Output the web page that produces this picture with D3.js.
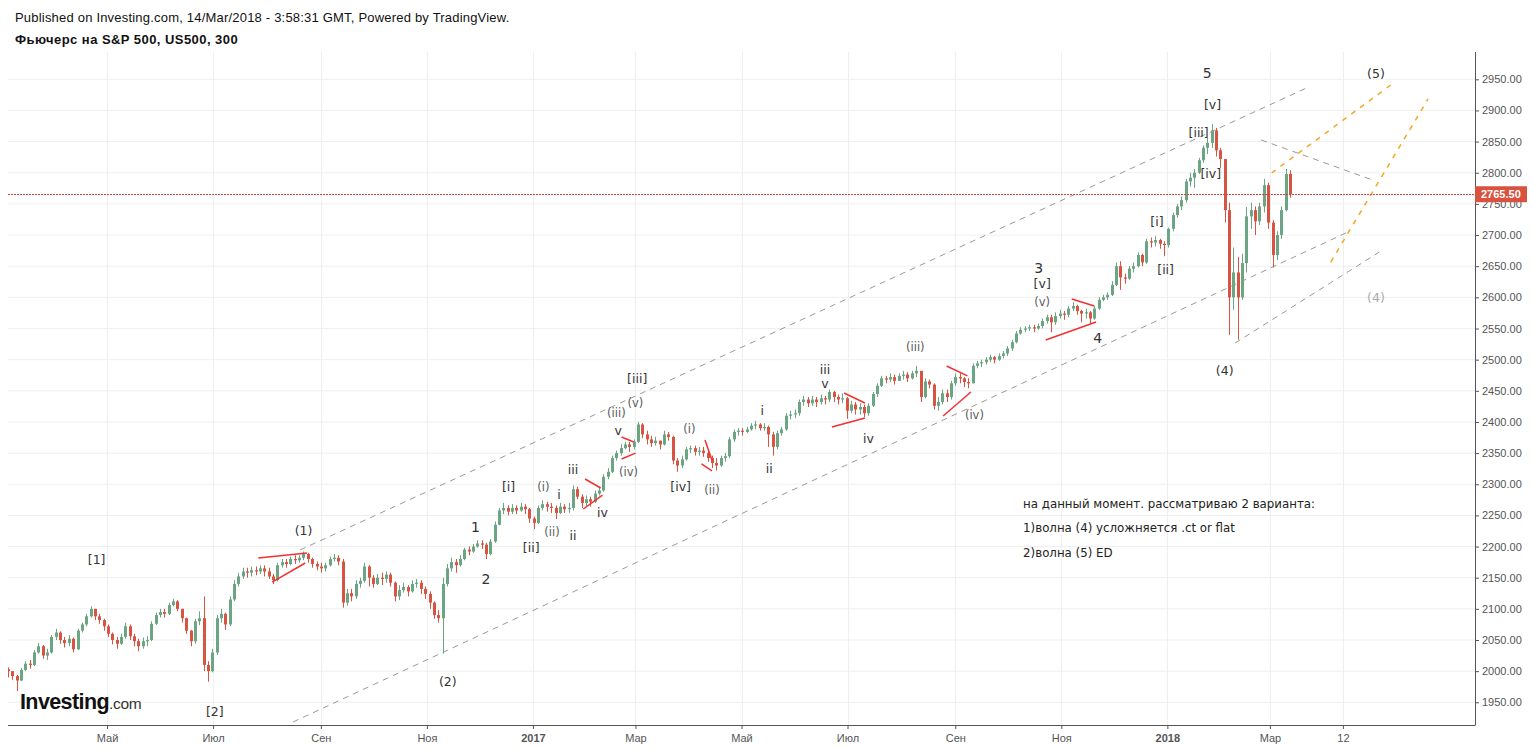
<!DOCTYPE html>
<html><head><meta charset="utf-8">
<script src="https://cdn.jsdelivr.net/npm/d3@7"></script>
<style>
html,body{margin:0;padding:0;background:#fff;}
svg{display:block;}
</style></head><body>
<svg id="chart" width="1533" height="749"></svg>
<script>
// ---------------- DATA ----------------
const firstCandleDate = "2016-03-05";
const candleStepDays = 2.5;
const firstOpen = 2003;
const closes = [
2000,1992,1985,2002,2012,2010,2030,2040,2025,2030,
2055,2062,2050,2045,2052,2035,2065,2075,2088,2100,
2088,2082,2072,2060,2050,2044,2055,2072,2056,2048,
2040,2048,2050,2076,2090,2095,2092,2106,2112,2100,
2085,2065,2048,2080,2085,2010,2000,2030,2085,2092,
2075,2115,2140,2152,2160,2158,2162,2160,2165,2160,
2152,2146,2170,2175,2172,2180,2178,2182,2188,2180,
2172,2168,2165,2170,2180,2182,2176,2110,2125,2120,
2140,2145,2168,2150,2140,2150,2148,2155,2142,2120,
2130,2135,2128,2140,2142,2132,2124,2110,2090,2085,
2140,2165,2175,2170,2180,2195,2192,2200,2205,2203,
2188,2208,2235,2258,2262,2256,2262,2258,2264,2260,
2245,2238,2262,2268,2264,2262,2254,2264,2260,2262,
2292,2280,2270,2276,2272,2285,2290,2312,2320,2342,
2350,2358,2364,2360,2368,2396,2380,2372,2366,2370,
2364,2380,2376,2338,2330,2340,2356,2358,2352,2354,
2350,2342,2334,2330,2342,2345,2372,2384,2386,2384,
2388,2394,2396,2390,2392,2380,2360,2382,2388,2410,
2412,2414,2432,2436,2430,2436,2432,2438,2436,2448,
2440,2436,2438,2418,2428,2420,2424,2414,2426,2445,
2458,2470,2468,2472,2466,2474,2476,2470,2478,2482,
2440,2465,2460,2426,2432,2446,2440,2462,2472,2470,
2464,2462,2490,2494,2496,2500,2504,2500,2506,2510,
2518,2528,2542,2548,2550,2552,2550,2554,2562,2568,
2560,2570,2574,2572,2582,2586,2578,2574,2576,2566,
2582,2596,2600,2604,2620,2650,2632,2630,2646,2650,
2668,2656,2690,2688,2692,2686,2684,2710,2732,2746,
2756,2786,2792,2800,2820,2840,2848,2868,2836,2822,
2740,2600,2640,2600,2655,2730,2740,2722,2746,2780,
2720,2668,2700,2740,2798,2765.5
];
const highs = [
2006,2000,1994,2005,2016,2018,2034,2045,2042,2036,
2058,2068,2064,2055,2058,2054,2068,2078,2092,2104,
2096,2092,2084,2075,2062,2055,2060,2078,2075,2060,
2052,2054,2056,2080,2094,2100,2100,2110,2116,2114,
2100,2086,2066,2084,2096,2120,2016,2036,2090,2100,
2094,2120,2146,2158,2166,2166,2168,2168,2170,2170,
2166,2156,2174,2180,2180,2184,2186,2186,2192,2190,
2182,2176,2174,2174,2184,2188,2186,2180,2132,2132,
2146,2150,2174,2170,2154,2156,2158,2160,2158,2144,
2138,2142,2138,2146,2148,2146,2136,2128,2112,2098,
2150,2172,2182,2180,2186,2198,2200,2204,2210,2210,
2206,2212,2240,2262,2270,2266,2268,2266,2270,2268,
2262,2248,2266,2274,2272,2270,2266,2270,2268,2270,
2298,2296,2284,2282,2280,2290,2296,2316,2326,2346,
2354,2364,2368,2368,2372,2400,2398,2386,2378,2376,
2370,2386,2384,2378,2342,2346,2360,2362,2362,2360,
2360,2352,2346,2342,2346,2350,2376,2388,2390,2390,
2392,2398,2402,2398,2398,2394,2384,2386,2392,2414,
2418,2420,2436,2442,2440,2442,2440,2444,2442,2452,
2450,2444,2446,2440,2434,2432,2430,2428,2430,2448,
2462,2474,2474,2478,2476,2478,2482,2480,2482,2490,
2478,2470,2468,2462,2440,2452,2452,2466,2478,2478,
2472,2470,2494,2498,2500,2504,2508,2506,2510,2514,
2522,2532,2546,2552,2554,2556,2556,2558,2566,2572,
2572,2576,2580,2578,2586,2592,2588,2580,2582,2578,
2586,2600,2604,2608,2626,2656,2658,2638,2650,2656,
2672,2670,2694,2696,2698,2694,2690,2712,2736,2750,
2762,2790,2800,2806,2824,2844,2856,2878,2872,2840,
2800,2752,2680,2665,2670,2745,2752,2746,2752,2790,
2784,2724,2706,2746,2806,2804
];
const lows = [
1990,1986,1968,1984,2000,2004,2008,2028,2020,2018,
2028,2050,2044,2038,2040,2030,2034,2062,2072,2086,
2082,2076,2065,2055,2043,2036,2042,2052,2050,2040,
2032,2036,2040,2048,2074,2086,2086,2090,2104,2096,
2078,2060,2040,2044,2074,2000,1983,1998,2026,2078,
2066,2072,2112,2136,2148,2150,2152,2154,2156,2152,
2148,2140,2144,2166,2166,2170,2172,2174,2178,2174,
2166,2162,2158,2160,2168,2176,2170,2102,2105,2112,
2116,2134,2142,2136,2134,2138,2138,2142,2136,2112,
2114,2126,2120,2126,2134,2124,2116,2100,2084,2078,
2028,2136,2160,2158,2168,2178,2186,2190,2198,2196,
2180,2186,2206,2234,2252,2250,2252,2252,2256,2252,
2238,2228,2236,2258,2256,2254,2244,2252,2254,2254,
2258,2276,2262,2264,2264,2270,2282,2288,2308,2318,
2338,2346,2356,2352,2356,2366,2374,2364,2360,2362,
2356,2362,2370,2332,2320,2326,2338,2350,2346,2346,
2344,2336,2326,2322,2328,2336,2342,2368,2378,2378,
2382,2386,2388,2386,2386,2360,2346,2356,2378,2386,
2404,2406,2410,2426,2424,2426,2424,2428,2428,2432,
2432,2428,2430,2405,2414,2412,2412,2408,2410,2424,
2440,2456,2462,2464,2460,2466,2468,2464,2468,2472,
2432,2438,2454,2420,2418,2428,2432,2436,2458,2462,
2456,2454,2462,2486,2488,2492,2496,2494,2498,2502,
2506,2514,2526,2540,2544,2546,2544,2548,2550,2558,
2544,2556,2566,2564,2568,2578,2572,2560,2566,2558,
2564,2580,2594,2596,2602,2618,2612,2622,2628,2640,
2648,2650,2654,2680,2682,2678,2666,2680,2706,2728,
2740,2752,2778,2776,2798,2816,2830,2840,2826,2808,
2720,2540,2580,2532,2596,2640,2710,2700,2716,2736,
2710,2648,2660,2694,2738,2760
];
const lastPrice = 2765.5;

const xTickDates = ["2016-05-01","2016-07-01","2016-09-01","2016-11-01","2017-01-01","2017-03-01","2017-05-01","2017-07-01","2017-09-01","2017-11-01","2018-01-01","2018-03-01","2018-04-12"];
const xTickLabels = ["Май","Июл","Сен","Ноя","2017","Мар","Май","Июл","Сен","Ноя","2018","Мар","12"];
const yTickValues = [1950,2000,2050,2100,2150,2200,2250,2300,2350,2400,2450,2500,2550,2600,2650,2700,2750,2800,2850,2900,2950];

const waveLabels = [
 ["2016-04-25",2180,"[1]"],["2016-07-02",1936,"[2]"],["2016-08-22",2225,"(1)"],["2016-11-13",1984,"(2)"],
 ["2016-11-29",2231,"1"],["2016-12-05",2148,"2"],["2016-12-18",2296,"[i]"],["2016-12-31",2198,"[ii]"],
 ["2017-01-07",2296,"(i)"],["2017-01-12",2223,"(ii)"],["2017-01-16",2283,"i"],["2017-01-24",2218,"ii"],
 ["2017-01-24",2324,"iii"],["2017-02-10",2254,"iv"],["2017-02-19",2387,"v"],["2017-02-18",2414,"(iii)"],
 ["2017-02-25",2320,"(iv)"],["2017-03-01",2430,"(v)"],["2017-03-02",2469,"[iii]"],["2017-04-01",2389,"(i)"],
 ["2017-03-27",2296,"[iv]"],["2017-04-14",2291,"(ii)"],["2017-05-13",2419,"i"],["2017-05-17",2326,"ii"],
 ["2017-06-18",2484,"iii"],["2017-06-18",2462,"v"],["2017-07-13",2374,"iv"],["2017-08-09",2520,"(iii)"],
 ["2017-09-12",2411,"(iv)"],["2017-10-19",2647,"3"],["2017-10-21",2623,"[v]"],["2017-10-21",2592,"(v)"],
 ["2017-11-22",2535,"4"],["2017-12-26",2721,"[i]"],["2017-12-31",2645,"[ii]"],["2018-01-24",2960,"5"],
 ["2018-01-27",2910,"[v]"],["2018-01-19",2865,"[iii]"],["2018-01-26",2798,"[iv]"],["2018-02-03",2483,"(4)"],
 ["2018-05-01",2960,"(5)"]
];
const projectionLabels = [["2018-05-01",2599,"(4)"]];

const channelLines = [
 [["2016-08-20",2194.5],["2018-03-22",2936]],
 [["2016-08-16",1918.4],["2018-04-15",2705]],
 [["2018-02-09",2526.7],["2018-05-03",2672.8]],
 [["2018-02-24",2852.6],["2018-04-29",2788.4]]
];
const orangeLines = [
 [["2018-03-02",2799.6],["2018-05-11",2944]],
 [["2018-04-05",2656.7],["2018-05-31",2918.4]]
];
const triangleLines = [
 [["2016-07-27",2181.6],["2016-08-24",2189.7]],
 [["2016-08-04",2143],["2016-08-23",2173.6]],
 [["2017-01-31",2308.4],["2017-02-09",2294]],
 [["2017-01-30",2260.3],["2017-02-10",2282.7]],
 [["2017-02-21",2375.8],["2017-02-28",2367.8]],
 [["2017-02-21",2340.5],["2017-03-01",2350]],
 [["2017-04-10",2371],["2017-04-14",2338.8]],
 [["2017-04-08",2332.6],["2017-04-14",2321.3]],
 [["2017-06-29",2446.5],["2017-07-11",2430.4]],
 [["2017-06-22",2391.9],["2017-07-11",2406.3]],
 [["2017-08-27",2489.8],["2017-09-08",2474]],
 [["2017-08-25",2409.6],["2017-09-10",2448]],
 [["2017-11-07",2597.4],["2017-11-20",2586]],
 [["2017-10-23",2531.5],["2017-11-21",2560.4]]
];
const noteLines = ["на данный момент. рассматриваю 2 варианта:","1)волна (4) усложняется .ct or flat","2)волна (5) ED"];
const notePos = ["2017-10-10",2262];

const headerLine1 = "Published on Investing.com, 14/Mar/2018 - 3:58:31 GMT, Powered by TradingView.";
const headerLine2 = "Фьючерс на S&P 500, US500, 300";

// ---------------- CHART ----------------
const parse = d3.utcParse("%Y-%m-%d");
const plot = {left:8, right:1475, top:52, bottom:725};
const svg = d3.select("#chart");
const x = d3.scaleUtc().domain([parse("2016-03-05"), parse("2018-06-27")]).range([plot.left, plot.right]);
const y = d3.scaleLinear().domain([1950, 2950]).range([702.3, 79.3]);
const SANS = "'Liberation Sans', Arial, sans-serif";
const LBL = "'DejaVu Sans', Verdana, sans-serif";

svg.append("rect").attr("width",1533).attr("height",749).attr("fill","#fff");

// header
svg.append("text").attr("x",15).attr("y",21.5).attr("font-family",SANS).attr("font-size",13).attr("letter-spacing",0.2).attr("fill","#111").text(headerLine1);
svg.append("text").attr("x",15).attr("y",44).attr("font-family",SANS).attr("font-size",13).attr("letter-spacing",0.45).attr("font-weight","bold").attr("fill","#111").text(headerLine2);

// grid
const xTicks = xTickDates.map(parse);
const grid = svg.append("g");
grid.selectAll("line.h").data(yTickValues).join("line")
  .attr("x1",plot.left).attr("x2",plot.right).attr("y1",d=>y(d)).attr("y2",d=>y(d))
  .attr("stroke","#efefef").attr("stroke-width",1);
grid.selectAll("line.v").data(xTicks).join("line")
  .attr("y1",plot.top).attr("y2",plot.bottom).attr("x1",d=>Math.round(x(d))+0.5).attr("x2",d=>Math.round(x(d))+0.5)
  .attr("stroke","#efefef").attr("stroke-width",1);

svg.append("clipPath").attr("id","clip").append("rect")
  .attr("x",plot.left).attr("y",plot.top).attr("width",plot.right-plot.left).attr("height",plot.bottom-plot.top);
const g = svg.append("g").attr("clip-path","url(#clip)");

// Logo
const logo = svg.append("g");
logo.append("text").attr("x",20).attr("y",709).attr("font-family",SANS).attr("font-weight","bold")
  .attr("font-size",21.5).attr("letter-spacing",-0.6).attr("fill","#111").text("Investing")
  .append("tspan").attr("font-weight","normal").attr("font-size",15.5).attr("fill","#333").attr("letter-spacing",-0.3).text(".com");

// channel lines
const pt = p => [x(parse(p[0])), y(p[1])];
g.selectAll("line.ch").data(channelLines).join("line")
  .attr("x1",d=>pt(d[0])[0]).attr("y1",d=>pt(d[0])[1]).attr("x2",d=>pt(d[1])[0]).attr("y2",d=>pt(d[1])[1])
  .attr("stroke","#9a9a9a").attr("stroke-width",1).attr("stroke-dasharray","6,5");
g.selectAll("line.or").data(orangeLines).join("line")
  .attr("x1",d=>pt(d[0])[0]).attr("y1",d=>pt(d[0])[1]).attr("x2",d=>pt(d[1])[0]).attr("y2",d=>pt(d[1])[1])
  .attr("stroke","#f5a623").attr("stroke-width",1.5).attr("stroke-dasharray","5,6");

// candles
const t0 = parse(firstCandleDate).getTime();
const candles = closes.map((c,i)=>{
  const o = i===0 ? firstOpen : closes[i-1];
  return {date:new Date(t0 + i*candleStepDays*864e5), o, c, h:Math.max(highs[i],o,c), l:Math.min(lows[i],o,c)};
});
const up = "#6ba583", down = "#d75442";
const cg = g.append("g");
cg.selectAll("line.w").data(candles).join("line")
  .attr("x1",d=>Math.round(x(d.date))+0.5).attr("x2",d=>Math.round(x(d.date))+0.5)
  .attr("y1",d=>y(d.h)).attr("y2",d=>y(d.l))
  .attr("stroke",d=>d.c>=d.o?up:down).attr("stroke-width",1);
cg.selectAll("rect.b").data(candles).join("rect")
  .attr("x",d=>Math.round(x(d.date))-1).attr("width",3)
  .attr("y",d=>y(Math.max(d.o,d.c))).attr("height",d=>Math.max(1,Math.abs(y(d.o)-y(d.c))))
  .attr("fill",d=>d.c>=d.o?up:down);

// red triangle lines
g.selectAll("line.tr").data(triangleLines).join("line")
  .attr("x1",d=>pt(d[0])[0]).attr("y1",d=>pt(d[0])[1]).attr("x2",d=>pt(d[1])[0]).attr("y2",d=>pt(d[1])[1])
  .attr("stroke","#f23030").attr("stroke-width",1.5);

// last price line
g.append("line").attr("x1",plot.left).attr("x2",plot.right).attr("y1",Math.round(y(lastPrice))+0.5).attr("y2",Math.round(y(lastPrice))+0.5)
  .attr("stroke","#c8473a").attr("stroke-width",1).attr("stroke-dasharray","2,1");

// wave labels
const labelColor = t => /^\([ivx]+\)$/.test(t) ? "#5a5a5a" : "#333";
const labelSize = t => /^[0-9]$/.test(t) ? 14 : (/^\([ivx]+\)$/.test(t) ? 11.5 : 12.5);
g.selectAll("text.wl").data(waveLabels).join("text")
  .attr("x",d=>x(parse(d[0]))).attr("y",d=>y(d[1]))
  .attr("text-anchor","middle").attr("dominant-baseline","central")
  .attr("font-family",LBL).attr("font-size",d=>labelSize(d[2])).attr("fill",d=>labelColor(d[2]))
  .text(d=>d[2]);
g.selectAll("text.pl").data(projectionLabels).join("text")
  .attr("x",d=>x(parse(d[0]))).attr("y",d=>y(d[1]))
  .attr("text-anchor","middle").attr("dominant-baseline","central")
  .attr("font-family",LBL).attr("font-size",12.5).attr("fill","#aaa")
  .text(d=>d[2]);

// note
g.selectAll("text.note").data(noteLines).join("text")
  .attr("x",x(parse(notePos[0]))).attr("y",(d,i)=>y(notePos[1]) + i*24.5)
  .attr("font-family",LBL).attr("font-size",11.8).attr("fill","#222").text(d=>d);

// axes
const xAxis = d3.axisBottom(x).tickValues(xTicks).tickFormat((d,i)=>xTickLabels[i]).tickSize(4).tickPadding(5).tickSizeOuter(0);
const xg = svg.append("g").attr("transform",`translate(0,${plot.bottom})`).call(xAxis);
xg.select(".domain").attr("stroke","#555");
xg.selectAll(".tick line").attr("stroke","#555");
xg.selectAll("text").attr("font-family",SANS).attr("font-size",11).attr("fill","#555")
  .attr("font-weight",(d,i)=>/^\d{4}$/.test(xTickLabels[i])?"bold":"normal");

const yAxis = d3.axisRight(y).tickValues(yTickValues).tickFormat(d3.format(".2f")).tickSize(4).tickPadding(3).tickSizeOuter(0);
const yg = svg.append("g").attr("transform",`translate(${plot.right},0)`).call(yAxis);
yg.select(".domain").attr("d",`M0.5,${plot.top}V${plot.bottom}`).attr("stroke","#555");
yg.selectAll(".tick line").attr("stroke","#555");
yg.selectAll("text").attr("font-family",SANS).attr("font-size",11).attr("fill","#555");
xg.select(".domain").attr("d",`M${plot.left},0.5H${plot.right+0.5}`);

// last price tag
const ly = y(lastPrice);
svg.append("rect").attr("x",plot.right).attr("y",ly-8).attr("width",52).attr("height",16).attr("fill","#d9523f");
svg.append("text").attr("x",plot.right+6).attr("y",ly).attr("dominant-baseline","central")
  .attr("font-family",SANS).attr("font-size",11).attr("font-weight","bold").attr("fill","#fff").text(d3.format(".2f")(lastPrice));
</script>
</body></html>
